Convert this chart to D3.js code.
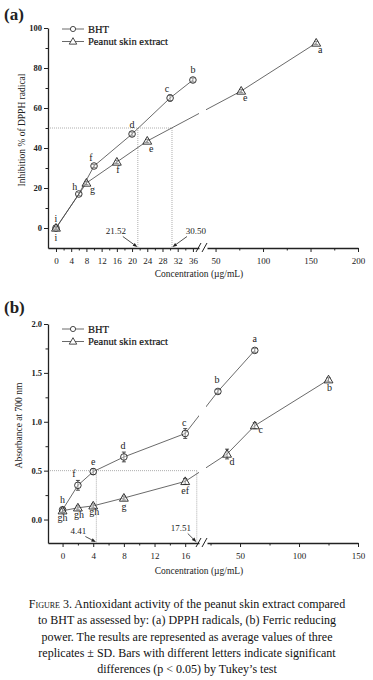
<!DOCTYPE html>
<html>
<head>
<meta charset="utf-8">
<script src="https://cdn.jsdelivr.net/npm/d3@7"></script>
<style>
  body { margin: 0; background: #fff; }
  svg { display: block; font-family: "Liberation Serif", "DejaVu Serif", serif; }
</style>
</head>
<body>
<div id="chart"></div>
<script>
// ---- data: (a) DPPH inhibition %
var concA_bht = [0, 6, 10, 20, 30, 36];
var inhibA_bht = [0, 17, 31, 47, 65, 74];
var errA_bht = [0.6, 0.8, 0.8, 1.0, 1.5, 1.0];
var letA_bht = ["i", "h", "f", "d", "c", "b"];

var concA_pse = [0, 8, 16, 24, 77, 156];
var inhibA_pse = [0, 22.5, 33, 43.5, 68.5, 92.5];
var errA_pse = [0.6, 0.8, 0.8, 0.8, 0.8, 0.8];
var letA_pse = ["i", "g", "f", "e", "e", "a"];

var ic50A = [21.52, 30.50];

// ---- data: (b) ferric reducing power
var concB_bht = [0, 2, 4, 8, 16, 31.25, 62.5];
var absB_bht = [0.10, 0.35, 0.49, 0.64, 0.88, 1.31, 1.73];
var errB_bht = [0.02, 0.05, 0.03, 0.05, 0.05, 0.02, 0.02];
var letB_bht = ["h", "f", "e", "d", "c", "b", "a"];

var concB_pse = [0, 2, 4, 8, 16, 39, 62.5, 125];
var absB_pse = [0.09, 0.12, 0.14, 0.22, 0.39, 0.67, 0.96, 1.43];
var errB_pse = [0.02, 0.02, 0.02, 0.02, 0.03, 0.05, 0.03, 0.02];
var letB_pse = ["gh", "gh", "gh", "g", "ef", "d", "c", "b"];

var ec05B = [4.41, 17.51];

var caption = [
  "3. Antioxidant activity of the peanut skin extract compared",
  "to BHT as assessed by: (a) DPPH radicals, (b) Ferric reducing",
  "power. The results are represented as average values of three",
  "replicates \u00b1 SD. Bars with different letters indicate significant",
  "differences (p < 0.05) by Tukey\u2019s test"
];

var ink = "#222";
var lineCol = "#444";
var serif = "Liberation Serif, DejaVu Serif, serif";

var svg = d3.select("#chart").append("svg")
  .attr("width", 373)
  .attr("height", 680);

var defs = svg.append("defs");

var BREAK_L = 199, BREAK_R = 206;

// little arrow from (x1,y1) to (x2,y2) with a filled head
function arrow(g, x1, y1, x2, y2) {
  var a = Math.atan2(y2 - y1, x2 - x1), L = 4.5, W = 1.8;
  var bx = x2 - L * Math.cos(a), by = y2 - L * Math.sin(a);
  g.append("line")
    .attr("x1", x1).attr("y1", y1).attr("x2", bx).attr("y2", by)
    .attr("stroke", ink).attr("stroke-width", 0.8);
  g.append("path")
    .attr("d", "M" + x2 + "," + y2 +
      "L" + (bx + W * Math.sin(a)) + "," + (by - W * Math.cos(a)) +
      "L" + (bx - W * Math.sin(a)) + "," + (by + W * Math.cos(a)) + "Z")
    .attr("fill", ink);
}

function makePanel(cfg) {
  var g = svg.append("g");
  var xl = cfg.xl, xr = cfg.xr, y = cfg.y;
  var x = function(v) { return v <= cfg.leftMax ? xl(v) : xr(v); };
  var xAxisY = y.range()[0];

  // clip with a gap at the axis break
  var clipId = "clip" + cfg.id;
  var cp = defs.append("clipPath").attr("id", clipId);
  cp.append("rect").attr("x", 0).attr("y", 0).attr("width", BREAK_L).attr("height", 680);
  cp.append("rect").attr("x", BREAK_R).attr("y", 0).attr("width", 373 - BREAK_R).attr("height", 680);

  // panel letter
  g.append("text")
    .attr("x", 4).attr("y", cfg.letterY)
    .attr("font-size", 17).attr("font-weight", "bold").attr("fill", ink)
    .text(cfg.letter);

  // reference dotted lines
  var refG = g.append("g")
    .attr("stroke", "#999").attr("stroke-width", 0.8)
    .attr("stroke-dasharray", "1,1").attr("fill", "none");
  refG.append("line")
    .attr("x1", xl.range()[0]).attr("x2", x(cfg.ref[1]))
    .attr("y1", y(cfg.refY)).attr("y2", y(cfg.refY));
  cfg.ref.forEach(function(r) {
    refG.append("line")
      .attr("x1", x(r)).attr("x2", x(r))
      .attr("y1", y(cfg.refY)).attr("y2", xAxisY);
  });

  // reference value labels with arrows
  cfg.ref.forEach(function(r, i) {
    var dx = cfg.refLabelDx[i], dy = cfg.refLabelDy[i];
    var tx = x(r) + dx;
    g.append("text")
      .attr("x", tx).attr("y", xAxisY - dy)
      .attr("text-anchor", "middle")
      .attr("font-size", 9).attr("fill", ink)
      .text(cfg.refFmt(r));
    if (dx < 0) arrow(g, tx + 7, xAxisY - dy + 2.5, x(r) - 0.5, xAxisY - 1);
    else arrow(g, tx - 9, xAxisY - dy + 2.5, x(r) + 0.5, xAxisY - 1);
  });

  // axes
  var yAxis = d3.axisLeft(y).tickValues(cfg.yTicks).tickSize(4).tickSizeOuter(0).tickFormat(cfg.yFmt);
  var yg = g.append("g").attr("transform", "translate(" + xl.range()[0] + ",0)").call(yAxis);
  var yMinor = d3.axisLeft(y).tickValues(cfg.yMinor).tickSize(2.5).tickSizeOuter(0).tickFormat("");
  var ym = g.append("g").attr("transform", "translate(" + xl.range()[0] + ",0)").call(yMinor);
  ym.select(".domain").remove();

  var axL = d3.axisBottom(xl).tickValues(cfg.xlTicks).tickSize(4).tickSizeOuter(0);
  var axR = d3.axisBottom(xr).tickValues(cfg.xrTicks).tickSize(4).tickSizeOuter(0);
  var gl = g.append("g").attr("transform", "translate(0," + xAxisY + ")").call(axL);
  var gr = g.append("g").attr("transform", "translate(0," + xAxisY + ")").call(axR);
  var mL = g.append("g").attr("transform", "translate(0," + xAxisY + ")")
    .call(d3.axisBottom(xl).tickValues(cfg.xlMinor).tickSize(2.5).tickSizeOuter(0).tickFormat(""));
  var mR = g.append("g").attr("transform", "translate(0," + xAxisY + ")")
    .call(d3.axisBottom(xr).tickValues(cfg.xrMinor).tickSize(2.5).tickSizeOuter(0).tickFormat(""));
  mL.select(".domain").remove();
  mR.select(".domain").remove();

  [yg, ym, gl, gr, mL, mR].forEach(function(a) {
    a.attr("font-family", serif).attr("font-size", 9);
    a.selectAll("path, line").attr("stroke", ink).attr("stroke-width", 1);
    a.selectAll("text").attr("fill", ink);
  });
  yg.selectAll(".tick text").attr("font-weight", "bold").attr("font-size", 8.5).attr("x", -6);
  yg.select(".domain").attr("stroke-width", 1.3);
  gl.select(".domain").attr("stroke-width", 1.3);
  gr.select(".domain").attr("stroke-width", 1.3);
  gl.selectAll(".tick text").attr("dy", "0.95em");
  gr.selectAll(".tick text").attr("dy", "0.95em");

  // break marks
  [BREAK_L - 1, BREAK_R - 2].forEach(function(bx) {
    g.append("line")
      .attr("x1", bx - 2).attr("y1", xAxisY + 4)
      .attr("x2", bx + 3).attr("y2", xAxisY - 5)
      .attr("stroke", ink).attr("stroke-width", 1);
  });

  // axis titles
  g.append("text")
    .attr("transform", "translate(" + cfg.yTitleX + "," + ((y.range()[0] + y.range()[1]) / 2 - 8) + ") rotate(-90)")
    .attr("text-anchor", "middle").attr("font-size", 9.5).attr("fill", ink)
    .text(cfg.yTitle);
  g.append("text")
    .attr("x", 199).attr("y", cfg.xTitleY)
    .attr("text-anchor", "middle").attr("font-size", 9.5).attr("fill", ink)
    .text("Concentration (\u00b5g/mL)");

  // series
  cfg.series.forEach(function(s) {
    var pts = s.x.map(function(v, i) { return { x: v, y: s.y[i], e: s.e[i], l: s.l[i] }; });
    var line = d3.line().x(function(d) { return x(d.x); }).y(function(d) { return y(d.y); });
    g.append("path")
      .datum(pts)
      .attr("d", line)
      .attr("clip-path", "url(#" + clipId + ")")
      .attr("fill", "none").attr("stroke", lineCol).attr("stroke-width", 0.8);

    var pg = g.append("g").selectAll("g").data(pts).enter().append("g")
      .attr("transform", function(d) { return "translate(" + x(d.x) + "," + y(d.y) + ")"; });

    // error bars
    pg.append("path")
      .attr("d", function(d) {
        var h = Math.max(y(d.y - d.e) - y(d.y), 0);
        return "M-2," + (-h) + "H2M0," + (-h) + "V" + h + "M-2," + h + "H2";
      })
      .attr("fill", "none").attr("stroke", ink).attr("stroke-width", 0.8);

    if (s.shape === "circle") {
      pg.append("circle").attr("r", 3.3)
        .attr("fill", "#fff").attr("fill-opacity", 0.4).attr("stroke", ink).attr("stroke-width", 0.9);
    } else {
      pg.append("path")
        .attr("d", d3.symbol().type(d3.symbolTriangle).size(34))
        .attr("transform", "translate(0,0.6)")
        .attr("fill", "#fff").attr("fill-opacity", 0.4).attr("stroke", ink).attr("stroke-width", 0.9);
    }

    pg.append("text")
      .attr("x", function(d, i) { return s.ldx[i]; })
      .attr("y", function(d, i) { return s.ldy[i]; })
      .attr("text-anchor", "middle")
      .attr("font-size", 10).attr("fill", ink)
      .text(function(d) { return d.l; });
  });

  // legend
  var lg = g.append("g").attr("transform", "translate(62," + cfg.legendY + ")");
  [["circle", "BHT"], ["triangle", "Peanut skin extract"]].forEach(function(it, i) {
    var row = lg.append("g").attr("transform", "translate(0," + (i * 12.5) + ")");
    row.append("line").attr("x1", 0).attr("x2", 22).attr("y1", 0).attr("y2", 0)
      .attr("stroke", lineCol).attr("stroke-width", 0.8);
    if (it[0] === "circle") {
      row.append("circle").attr("cx", 11).attr("r", 2.6)
        .attr("fill", "#fff").attr("stroke", ink).attr("stroke-width", 0.8);
    } else {
      row.append("path").attr("d", d3.symbol().type(d3.symbolTriangle).size(24))
        .attr("transform", "translate(11,0.5)")
        .attr("fill", "#fff").attr("stroke", ink).attr("stroke-width", 0.8);
    }
    row.append("text").attr("x", 26).attr("y", 3.5)
      .attr("font-size", 10.5).attr("fill", "#111")
      .attr("stroke", "#111").attr("stroke-width", 0.2)
      .text(it[1]);
  });
}

// panel (a)
makePanel({
  id: "a", letter: "(a)", letterY: 20,
  xl: d3.scaleLinear().domain([-2.1, 37.6]).range([48, BREAK_L]),
  xr: d3.scaleLinear().domain([41, 200]).range([207, 358]),
  leftMax: 38,
  y: d3.scaleLinear().domain([-10, 100]).range([248, 28]),
  yTicks: [0, 20, 40, 60, 80, 100], yMinor: [10, 30, 50, 70, 90],
  yFmt: d3.format("d"),
  xlTicks: [0, 4, 8, 12, 16, 20, 24, 28, 32, 36], xlMinor: [2, 6, 10, 14, 18, 22, 26, 30, 34],
  xrTicks: [50, 100, 150, 200], xrMinor: [75, 125, 175],
  ref: ic50A, refY: 50, refLabelDx: [-22, 24], refLabelDy: [14, 14], refFmt: d3.format(".2f"),
  yTitle: "Inhibition % of DPPH radical", yTitleX: 25, xTitleY: 277,
  legendY: 29,
  series: [
    { shape: "circle", x: concA_bht, y: inhibA_bht, e: errA_bht, l: letA_bht,
      ldx: [0, -4, -3, 0, -3, 0], ldy: [-6, -4, -5, -6, -6, -7] },
    { shape: "triangle", x: concA_pse, y: inhibA_pse, e: errA_pse, l: letA_pse,
      ldx: [0, 6, 1, 4, 4, 4], ldy: [13, 10, 11, 11, 10, 10] }
  ]
});

// panel (b)
makePanel({
  id: "b", letter: "(b)", letterY: 313,
  xl: d3.scaleLinear().domain([-1.9, 17.8]).range([48, BREAK_L]),
  xr: d3.scaleLinear().domain([22, 150]).range([207, 358]),
  leftMax: 18,
  y: d3.scaleLinear().domain([-0.24, 2.0]).range([543, 324]),
  yTicks: [0, 0.5, 1.0, 1.5, 2.0], yMinor: [0.25, 0.75, 1.25, 1.75],
  yFmt: d3.format(".1f"),
  xlTicks: [0, 4, 8, 12, 16], xlMinor: [2, 6, 10, 14],
  xrTicks: [50, 100, 150], xrMinor: [25, 75, 125],
  ref: ec05B, refY: 0.5, refLabelDx: [-18, -16], refLabelDy: [9, 12], refFmt: d3.format(".2f"),
  yTitle: "Absorbance at 700 nm", yTitleX: 22, xTitleY: 574,
  legendY: 329,
  series: [
    { shape: "circle", x: concB_bht, y: absB_bht, e: errB_bht, l: letB_bht,
      ldx: [0, -4, 0, -1, -1, -1, 0], ldy: [-7, -8, -7, -8, -8, -8, -8] },
    { shape: "triangle", x: concB_pse, y: absB_pse, e: errB_pse, l: letB_pse,
      ldx: [0, 1, 1, 0, 0, 5, 6, 1], ldy: [10, 10, 9, 12, 13, 11, 7, 11] }
  ]
});

// caption
var cap = svg.append("text")
  .attr("text-anchor", "middle")
  .attr("font-size", 12).attr("fill", "#111");
caption.forEach(function(t, i) {
  var ts = cap.append("tspan").attr("x", 187).attr("y", 608 + i * 16.3);
  if (i === 0) {
    ts.append("tspan").attr("font-variant", "small-caps").text("Figure ");
  }
  ts.append("tspan").text(t);
});
</script>
</body>
</html>
